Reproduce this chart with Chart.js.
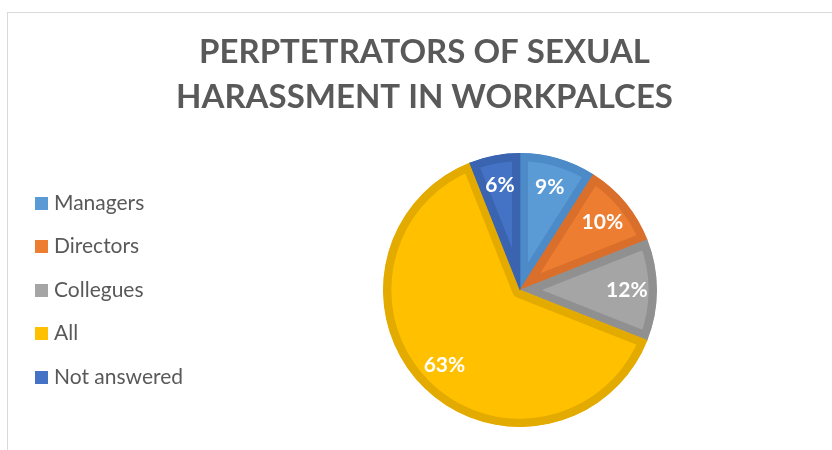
<!DOCTYPE html>
<html><head><meta charset="utf-8">
<script src="https://cdn.jsdelivr.net/npm/chart.js@4/dist/chart.umd.min.js"></script>
<style>
html,body{margin:0;padding:0;background:#fff;overflow:hidden}
#wrap{position:relative;width:832px;height:450px;overflow:hidden}
#frame{position:absolute;left:7px;top:12px;width:900px;height:500px;border-top:1px solid #d9d9d9;border-left:1px solid #d9d9d9}
canvas{position:absolute;left:0;top:0}
</style></head><body>
<div id="wrap"><div id="frame"></div><canvas id="c" width="832" height="450"></canvas></div>
<script>
const categories = ['Managers', 'Directors', 'Collegues', 'All', 'Not answered'];
const values = [9, 10, 12, 63, 6];
const valueLabels = ['9%', '10%', '12%', '63%', '6%'];
const titleLines = ['PERPTETRATORS OF SEXUAL', 'HARASSMENT IN WORKPALCES'];
const fillColors = ['#5B9BD5', '#ED7D31', '#A5A5A5', '#FFC000', '#4472C4'];
const borderColors = ['#4C8BC8', '#D96F2B', '#909090', '#E3AB00', '#3A64B0'];

function swatch(color) {
  const c = document.createElement('canvas');
  c.width = 13; c.height = 13;
  const x = c.getContext('2d');
  x.fillStyle = color;
  x.fillRect(0, 0, 13, 13);
  return c;
}

const legendWidthPlugin = {
  id: 'legendWidth',
  beforeLayout(chart) {
    const lg = chart.legend;
    if (lg && !lg._patched) {
      const origFit = lg.fit;
      lg.fit = function () { origFit.call(this); this.width = 191; };
      lg._patched = true;
    }
  }
};

const valueLabelPlugin = {
  id: 'valueLabels',
  afterDatasetsDraw(chart) {
    const meta = chart.getDatasetMeta(0);
    const ctx = chart.ctx;
    ctx.save();
    ctx.font = 'bold 21px Lato, "Liberation Sans", sans-serif';
    ctx.fillStyle = '#ffffff';
    ctx.textAlign = 'center';
    ctx.textBaseline = 'middle';
    meta.data.forEach((arc, i) => {
      const p = arc.getProps(['x', 'y', 'startAngle', 'endAngle', 'outerRadius'], true);
      const a = (p.startAngle + p.endAngle) / 2;
      const r = p.outerRadius * 0.78;
      ctx.fillText(valueLabels[i], p.x + Math.cos(a) * r, p.y + Math.sin(a) * r);
    });
    ctx.restore();
  }
};

new Chart(document.getElementById('c'), {
  type: 'pie',
  data: {
    labels: categories,
    datasets: [{
      data: values,
      backgroundColor: fillColors,
      borderColor: borderColors,
      borderWidth: 8,
      borderAlign: 'inner',
      hoverOffset: 0,
      offset: 0
    }]
  },
  options: {
    responsive: false,
    animation: false,
    events: [],
    layout: { padding: { left: 17, right: 0, top: 0, bottom: 23 } },
    plugins: {
      tooltip: { enabled: false },
      title: {
        display: true,
        text: titleLines,
        color: '#595959',
        font: { family: 'Lato, "Liberation Sans", sans-serif', size: 33, weight: 'bold', lineHeight: 45 / 33 },
        padding: { top: 30, bottom: 33 }
      },
      legend: {
        position: 'left',
        align: 'center',
        fullSize: false,
        labels: {
          color: '#595959',
          font: { family: 'Lato, "Liberation Sans", sans-serif', size: 21 },
          usePointStyle: true,
          boxWidth: 4,
          padding: 22.5,
          generateLabels(chart) {
            return categories.map((t, i) => ({
              text: t,
              fillStyle: fillColors[i],
              strokeStyle: fillColors[i],
              fontColor: '#595959',
              lineWidth: 0,
              pointStyle: swatch(fillColors[i]),
              hidden: false,
              index: i
            }));
          }
        }
      }
    }
  },
  plugins: [legendWidthPlugin, valueLabelPlugin]
});
</script>
</body></html>
